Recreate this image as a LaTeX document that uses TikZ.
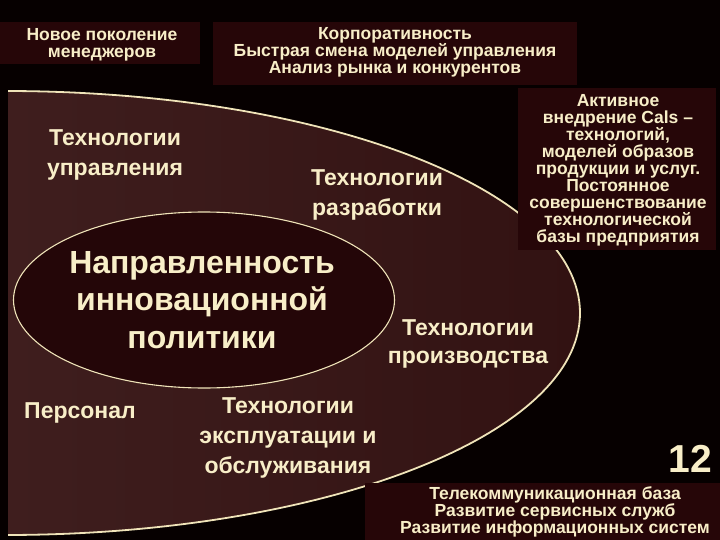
\documentclass[tikz,border=0pt]{standalone}
\usepackage{fontspec}
\usetikzlibrary{shapes.geometric}
\setmainfont{Liberation Sans}
\definecolor{bgc}{RGB}{6,0,0}
\definecolor{boxc}{RGB}{38,6,8}
\definecolor{txt}{RGB}{248,238,200}
\definecolor{rimc}{RGB}{240,228,185}
\definecolor{bigl}{RGB}{76,42,42}
\definecolor{bigr}{RGB}{50,18,18}
\definecolor{innerc}{RGB}{36,6,8}
\tikzset{
  lbl/.style={text=txt, align=center, inner sep=0pt, font=\fontsize{23}{30}\selectfont\bfseries},
  boxtxt/.style={text=txt, align=center, inner sep=0pt, font=\fontsize{17.5}{17}\selectfont\bfseries},
  boxbg/.style={fill=boxc, draw=none},
}
\begin{document}
\begin{tikzpicture}[x=1pt,y=-1pt]
\useasboundingbox (0,0) rectangle (720,540);
\fill[bgc] (0,0) rectangle (720,540);
% big ellipse
\begin{scope}
  \clip (8,0) rectangle (720,540);
  \shade[left color=bigl, right color=bigr] (5,313) ellipse [x radius=575, y radius=222];
  \draw[rimc, line width=1.8pt] (5,313) ellipse [x radius=575, y radius=222];
\end{scope}
% inner ellipse
\node[ellipse, minimum width=381pt, minimum height=176pt, fill=innerc, draw=rimc, line width=1.1pt, inner sep=0pt] (core) at (204,300) {};
% boxes
\fill[boxbg] (0,22) rectangle (200,64);
\fill[boxbg] (213,22) rectangle (577,85);
\fill[boxbg] (518,88) rectangle (716,250);
\fill[boxbg] (365,483) rectangle (720,540);
% texts
\node[boxtxt] (gen) at (102,45) {Новое поколение\\менеджеров};
\node[boxtxt] (corp) at (395,52) {Корпоративность\\Быстрая смена моделей управления\\Анализ рынка и конкурентов};
\node[boxtxt] (cals) at (618,170) {Активное\\внедрение Cals –\\технологий,\\моделей образов\\продукции и услуг.\\Постоянное\\совершенствование\\технологической\\базы предприятия};
\node[boxtxt] (tele) at (555,512) {Телекоммуникационная база\\Развитие сервисных служб\\Развитие информационных систем};
\node[lbl] (upr) at (115,155) {Технологии\\управления};
\node[lbl] (razr) at (377,195) {Технологии\\разработки};
\node[lbl, font=\fontsize{32}{37.5}\selectfont\bfseries] (title) at (202,300) {Направленность\\инновационной\\политики};
\node[lbl, font=\fontsize{23}{28}\selectfont\bfseries] (proizv) at (468,344) {Технологии\\производства};
\node[lbl] (pers) at (80,413) {Персонал};
\node[lbl] (expl) at (288,438) {Технологии\\эксплуатации и\\обслуживания};
\node[lbl, font=\fontsize{39}{40}\selectfont\bfseries] (num) at (690,459) {12};
\end{tikzpicture}
\end{document}
